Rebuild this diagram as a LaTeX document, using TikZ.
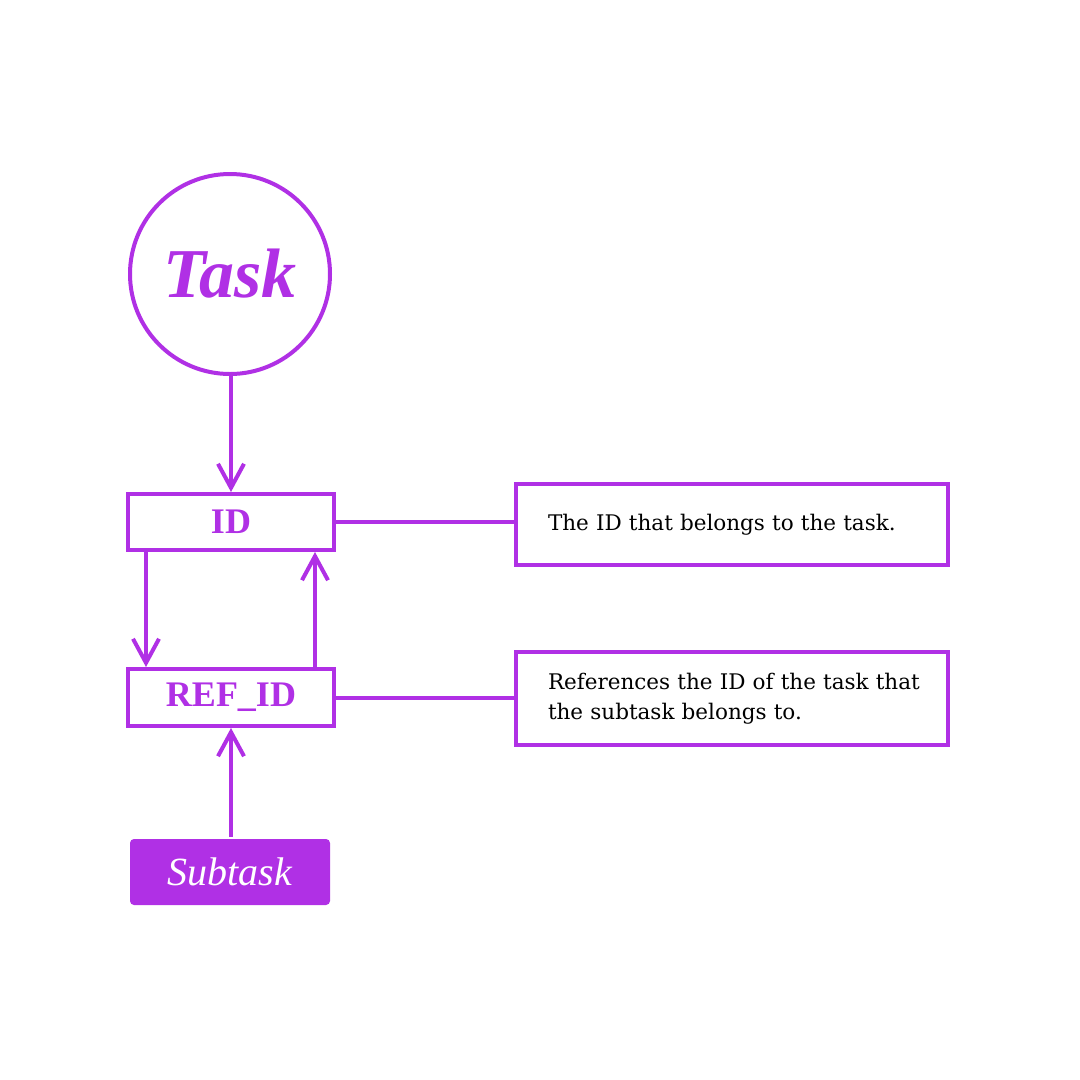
\documentclass[tikz,border=0pt]{standalone}
\usepackage{fontspec}
\setmainfont{Liberation Serif}
\newfontfamily\notefont{DejaVu Serif}
\usetikzlibrary{arrows.meta}
\definecolor{tpurple}{RGB}{176,48,229}
\begin{document}
\begin{tikzpicture}[x=1pt,y=-1pt,line width=4pt,
    field/.style={draw=tpurple,minimum width=206pt,minimum height=56pt,inner sep=0pt,
      text=tpurple,font=\fontsize{36}{40}\selectfont\bfseries},
    note/.style={draw=tpurple,minimum width=432pt,text width=368pt,inner xsep=32pt,inner ysep=0pt,
      align=left,font=\notefont\fontsize{21.5}{30}\selectfont},
    link/.style={draw=tpurple,-{Straight Barb[length=24pt,width=26pt]}}]
  \useasboundingbox[fill=white] (0,0) rectangle (1080,1080);
  \node[circle,draw=tpurple,minimum size=200pt,inner sep=0pt,text=tpurple,
    font=\fontsize{70}{74}\selectfont\bfseries\itshape] (task) at (230,274) {Task};
  \node[field] (id) at (231,522) {ID};
  \node[field,minimum height=57pt] (ref) at (231,697.5) {REF\_ID};
  \node[fill=tpurple,rounded corners=4pt,minimum width=200pt,minimum height=66pt,inner sep=0pt,
    text=white,font=\fontsize{40}{44}\selectfont\itshape] (sub) at (230,872) {Subtask};
  \node[note,minimum height=81pt] (idnote) at (732,524.5) {The ID that belongs to the task.};
  \node[note,minimum height=93pt] (refnote) at (732,698.5) {\mbox{References the ID of the task that}\\the subtask belongs to.};
  \draw[link] (task.south -| id.north) -- (id.north);
  \draw[link] ([xshift=20pt]id.south west) -- ([xshift=20pt]ref.north west);
  \draw[link] ([xshift=-21pt]ref.north east) -- ([xshift=-21pt]id.south east);
  \draw[link] (sub.north -| ref.south) -- (ref.south);
  \draw[tpurple] (id.east) -- (id.east -| idnote.west);
  \draw[tpurple] (ref.east) -- (ref.east -| refnote.west);
\end{tikzpicture}
\end{document}
